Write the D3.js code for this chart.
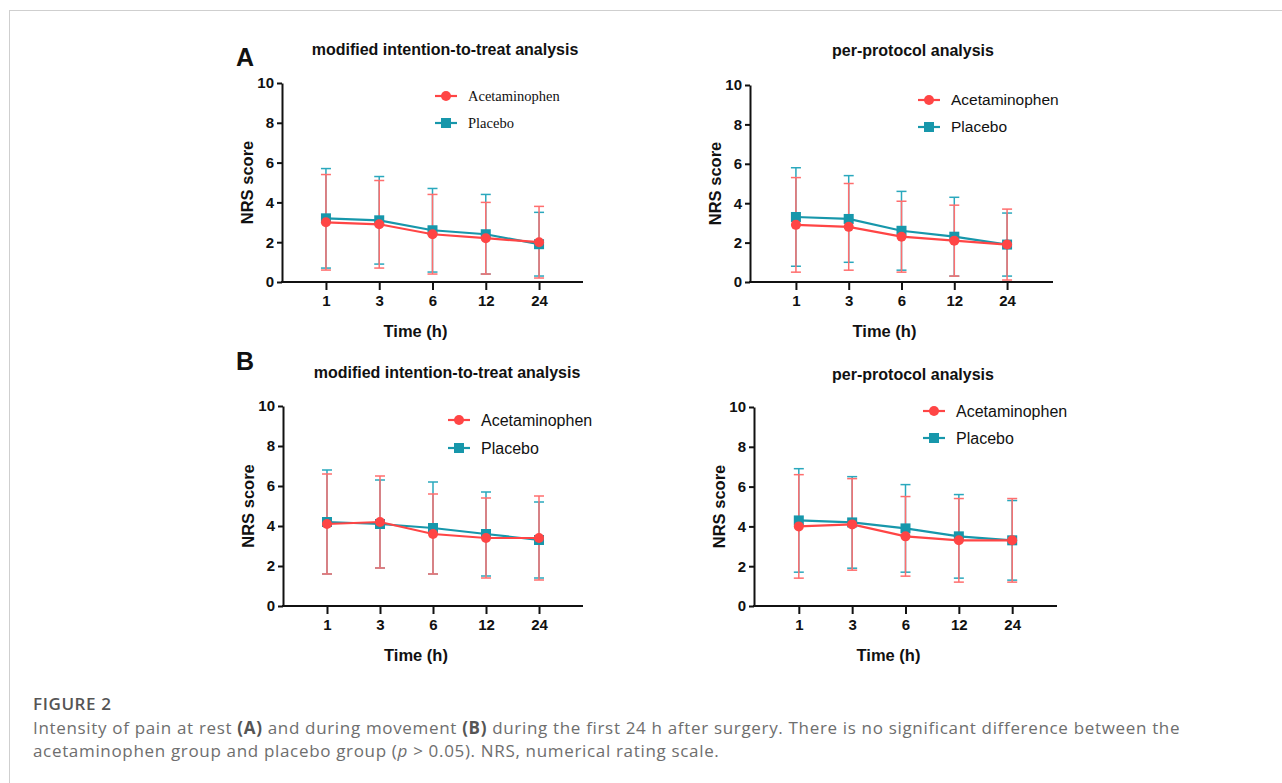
<!DOCTYPE html>
<html>
<head>
<meta charset="utf-8">
<script src="https://cdn.jsdelivr.net/npm/d3@7"></script>
<style>
  html, body { margin: 0; padding: 0; background: #fff; }
  svg { display: block; }
</style>
</head>
<body>
<svg id="chart" width="1282" height="783"></svg>
<script>
// ---------------- DATA ----------------
const timeLabels = ["1", "3", "6", "12", "24"];
const yTicks = [0, 2, 4, 6, 8, 10];
const seriesNames = ["Acetaminophen", "Placebo"];
const panelTitles = ["modified intention-to-treat analysis", "per-protocol analysis"];
const panelLetters = ["A", "B"];

// Panel A (rest), mITT
const restMittAcetMean = [3.0, 2.9, 2.4, 2.2, 2.0];
const restMittAcetSD   = [2.4, 2.2, 2.0, 1.8, 1.8];
const restMittPlacMean = [3.2, 3.1, 2.6, 2.4, 1.9];
const restMittPlacSD   = [2.5, 2.2, 2.1, 2.0, 1.6];
// Panel A (rest), per-protocol
const restPpAcetMean = [2.9, 2.8, 2.3, 2.1, 1.9];
const restPpAcetSD   = [2.4, 2.2, 1.8, 1.8, 1.8];
const restPpPlacMean = [3.3, 3.2, 2.6, 2.3, 1.9];
const restPpPlacSD   = [2.5, 2.2, 2.0, 2.0, 1.6];
// Panel B (movement), mITT
const moveMittAcetMean = [4.1, 4.2, 3.6, 3.4, 3.4];
const moveMittAcetSD   = [2.5, 2.3, 2.0, 2.0, 2.1];
const moveMittPlacMean = [4.2, 4.1, 3.9, 3.6, 3.3];
const moveMittPlacSD   = [2.6, 2.2, 2.3, 2.1, 1.9];
// Panel B (movement), per-protocol
const movePpAcetMean = [4.0, 4.1, 3.5, 3.3, 3.3];
const movePpAcetSD   = [2.6, 2.3, 2.0, 2.1, 2.1];
const movePpPlacMean = [4.3, 4.2, 3.9, 3.5, 3.3];
const movePpPlacSD   = [2.6, 2.3, 2.2, 2.1, 2.0];

const captionTitle = "FIGURE 2";

// ---------------- LAYOUT ----------------
const svg = d3.select("#chart");
const RED = "#ff4545", RED_ERR = "#ff6e6e";
const TEAL = "#1797ab", TEAL_ERR = "#2aa8bd";
const FONT = "'Liberation Sans', Arial, Helvetica, sans-serif";

// frame
svg.append("rect").attr("x", 9.5).attr("y", 10.5).attr("width", 1300).attr("height", 800)
  .attr("fill", "none").attr("stroke", "#cfcfcf").attr("stroke-width", 1);

const panels = [
  { x0: 282, x1: 583, yTop: 83, yBot: 282, pad: 0.825, title: panelTitles[0], titleX: 445, titleY: 55,
    letter: panelLetters[0], letterY: 66,
    legX: 435, legY: 96, legGap: 27, legFont: "'Liberation Serif', 'Times New Roman', serif", legSize: 14.5,
    acetM: restMittAcetMean, acetS: restMittAcetSD, placM: restMittPlacMean, placS: restMittPlacSD },
  { x0: 750, x1: 1053, yTop: 85, yBot: 282, pad: 0.87, title: panelTitles[1], titleX: 913, titleY: 56,
    legX: 918, legY: 100, legGap: 27, legFont: FONT, legSize: 15.5,
    acetM: restPpAcetMean, acetS: restPpAcetSD, placM: restPpPlacMean, placS: restPpPlacSD },
  { x0: 283, x1: 583, yTop: 406, yBot: 606, pad: 0.83, title: panelTitles[0], titleX: 447, titleY: 378,
    letter: panelLetters[1], letterY: 370,
    legX: 448, legY: 420, legGap: 28, legFont: FONT, legSize: 16,
    acetM: moveMittAcetMean, acetS: moveMittAcetSD, placM: moveMittPlacMean, placS: moveMittPlacSD },
  { x0: 754, x1: 1057, yTop: 407, yBot: 606, pad: 0.84, title: panelTitles[1], titleX: 913, titleY: 380,
    legX: 923, legY: 411, legGap: 27, legFont: FONT, legSize: 16,
    acetM: movePpAcetMean, acetS: movePpAcetSD, placM: movePpPlacMean, placS: movePpPlacSD }
];

panels.forEach(p => {
  const g = svg.append("g");
  const x = d3.scalePoint().domain(timeLabels).range([p.x0, p.x1]).padding(p.pad);
  const y = d3.scaleLinear().domain([0, 10]).range([p.yBot, p.yTop]);

  // y axis
  const ya = g.append("g").attr("transform", `translate(${p.x0},0)`)
    .call(d3.axisLeft(y).tickValues(yTicks).tickSize(5).tickSizeOuter(0).tickPadding(3));
  ya.select(".domain").attr("stroke-width", 2).attr("stroke", "#111");
  ya.selectAll(".tick line").attr("stroke-width", 2).attr("stroke", "#111");
  ya.selectAll(".tick text").attr("font-family", FONT).attr("font-weight", "bold")
    .attr("font-size", 15).attr("fill", "#111");

  // x axis
  const xa = g.append("g").attr("transform", `translate(0,${p.yBot})`)
    .call(d3.axisBottom(x).tickSize(8).tickSizeOuter(0).tickPadding(5));
  xa.select(".domain").attr("stroke-width", 2).attr("stroke", "#111")
    .attr("d", `M${p.x0 - 1},0H${p.x1}`);
  xa.selectAll(".tick line").attr("stroke-width", 2).attr("stroke", "#111");
  xa.selectAll(".tick text").attr("font-family", FONT).attr("font-weight", "bold")
    .attr("font-size", 15).attr("fill", "#111");

  // axis titles
  g.append("text").attr("x", (p.x0 + p.x1) / 2 - 17).attr("y", p.yBot + 55)
    .attr("text-anchor", "middle").attr("font-family", FONT).attr("font-weight", "bold")
    .attr("font-size", 16.5).attr("fill", "#111").text("Time (h)");
  g.append("text").attr("transform", `translate(${p.x0 - 29},${(p.yTop + p.yBot) / 2}) rotate(-90)`)
    .attr("text-anchor", "middle").attr("font-family", FONT).attr("font-weight", "bold")
    .attr("font-size", 16.5).attr("fill", "#111").text("NRS score");

  // panel title
  g.append("text").attr("x", p.titleX).attr("y", p.titleY).attr("text-anchor", "middle")
    .attr("font-family", FONT).attr("font-weight", "bold").attr("font-size", 16).attr("fill", "#111")
    .text(p.title);
  if (p.letter) {
    g.append("text").attr("x", 236).attr("y", p.letterY).attr("font-family", FONT)
      .attr("font-weight", "bold").attr("font-size", 25).attr("fill", "#111").text(p.letter);
  }

  const series = [
    { mean: p.placM, sd: p.placS, color: TEAL, err: TEAL_ERR, shape: "square" },
    { mean: p.acetM, sd: p.acetS, color: RED, err: RED_ERR, shape: "circle" }
  ];
  const cap = 5;
  // error bars
  series.forEach(s => {
    const eg = g.append("g").attr("stroke", s.err).attr("stroke-width", 1.5).attr("fill", "none");
    timeLabels.forEach((t, i) => {
      const cx = x(t), lo = y(Math.max(0, s.mean[i] - s.sd[i])), hi = y(s.mean[i] + s.sd[i]);
      eg.append("line").attr("x1", cx).attr("x2", cx).attr("y1", lo).attr("y2", hi);
      eg.append("line").attr("x1", cx - cap).attr("x2", cx + cap).attr("y1", lo).attr("y2", lo);
      eg.append("line").attr("x1", cx - cap).attr("x2", cx + cap).attr("y1", hi).attr("y2", hi);
    });
  });
  // lines + markers
  series.forEach(s => {
    const line = d3.line().x((d, i) => x(timeLabels[i])).y(d => y(d));
    g.append("path").datum(s.mean).attr("d", line).attr("fill", "none")
      .attr("stroke", s.color).attr("stroke-width", 2.2);
    s.mean.forEach((v, i) => {
      if (s.shape === "circle") {
        g.append("circle").attr("cx", x(timeLabels[i])).attr("cy", y(v)).attr("r", 5).attr("fill", s.color);
      } else {
        g.append("rect").attr("x", x(timeLabels[i]) - 5).attr("y", y(v) - 5)
          .attr("width", 10).attr("height", 10).attr("fill", s.color);
      }
    });
  });

  // legend
  const legItems = [
    { name: seriesNames[0], color: RED, shape: "circle" },
    { name: seriesNames[1], color: TEAL, shape: "square" }
  ];
  legItems.forEach((it, k) => {
    const ly = p.legY + k * p.legGap;
    g.append("line").attr("x1", p.legX).attr("x2", p.legX + 22).attr("y1", ly).attr("y2", ly)
      .attr("stroke", it.color).attr("stroke-width", 2.2);
    if (it.shape === "circle") {
      g.append("circle").attr("cx", p.legX + 11).attr("cy", ly).attr("r", 5).attr("fill", it.color);
    } else {
      g.append("rect").attr("x", p.legX + 6).attr("y", ly - 5).attr("width", 10).attr("height", 10)
        .attr("fill", it.color);
    }
    g.append("text").attr("x", p.legX + 33).attr("y", ly).attr("dy", "0.35em")
      .attr("font-family", p.legFont).attr("font-size", p.legSize).attr("fill", "#111").text(it.name);
  });
});

// ---------------- CAPTION ----------------
const CAPFONT = "'Open Sans', 'Noto Sans', sans-serif";
svg.append("text").attr("x", 33).attr("y", 710).attr("font-family", CAPFONT)
  .attr("font-size", 17).attr("font-weight", 600).attr("letter-spacing", 0.6).attr("fill", "#555")
  .text(captionTitle);

const cap1 = svg.append("text").attr("x", 33).attr("y", 734).attr("font-family", CAPFONT)
  .attr("font-size", 17).attr("letter-spacing", 0.67).attr("fill", "#6e6e6e");
cap1.append("tspan").text("Intensity of pain at rest ");
cap1.append("tspan").attr("font-weight", "bold").attr("fill", "#555").text("(A)");
cap1.append("tspan").text(" and during movement ");
cap1.append("tspan").attr("font-weight", "bold").attr("fill", "#555").text("(B)");
cap1.append("tspan").text(" during the first 24 h after surgery. There is no significant difference between the");

const cap2 = svg.append("text").attr("x", 33).attr("y", 757).attr("font-family", CAPFONT)
  .attr("font-size", 17).attr("letter-spacing", 0.67).attr("fill", "#6e6e6e");
cap2.append("tspan").text("acetaminophen group and placebo group (");
cap2.append("tspan").attr("font-style", "italic").text("p");
cap2.append("tspan").text(" > 0.05). NRS, numerical rating scale.");
</script>
</body>
</html>
